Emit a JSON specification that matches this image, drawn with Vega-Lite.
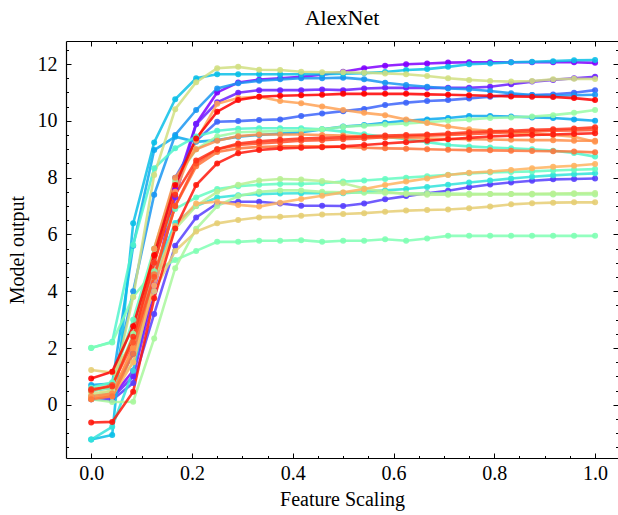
{
"$schema": "https://vega.github.io/schema/vega-lite/v6.json",
"width": 552, "height": 417,
"autosize": {"type": "none"},
"padding": {"left": 66, "top": 41, "right": 0, "bottom": 57},
"background": "white",
"title": {"text": "AlexNet", "font": "Liberation Serif", "fontSize": 22, "fontWeight": "normal", "color": "#000", "offset": 11},
"config": {
  "view": {"stroke": null},
  "axis": {"labelFont": "Liberation Serif", "titleFont": "Liberation Serif", "labelFontSize": 20, "titleFontSize": 20, "titleFontWeight": "normal", "labelColor": "#000", "titleColor": "#000", "tickColor": "#000", "grid": false, "domain": false, "domainColor": "#000", "domainWidth": 1.2, "tickWidth": 1}
},
"data": {"values": [
{"s":"a","x":0,"y":0.25},{"s":"a","x":0.0417,"y":0.3},{"s":"a","x":0.0833,"y":1.2},{"s":"a","x":0.125,"y":4.2},{"s":"a","x":0.1667,"y":7.6},{"s":"a","x":0.2083,"y":9.9},{"s":"a","x":0.25,"y":11.0},{"s":"a","x":0.2917,"y":11.35},{"s":"a","x":0.3333,"y":11.45},{"s":"a","x":0.375,"y":11.5},{"s":"a","x":0.4167,"y":11.55},{"s":"a","x":0.4583,"y":11.62},{"s":"a","x":0.5,"y":11.73},{"s":"a","x":0.5417,"y":11.85},{"s":"a","x":0.5833,"y":11.94},{"s":"a","x":0.625,"y":11.99},{"s":"a","x":0.6667,"y":12.02},{"s":"a","x":0.7083,"y":12.05},{"s":"a","x":0.75,"y":12.06},{"s":"a","x":0.7917,"y":12.06},{"s":"a","x":0.8333,"y":12.06},{"s":"a","x":0.875,"y":12.06},{"s":"a","x":0.9167,"y":12.06},{"s":"a","x":0.9583,"y":12.06},{"s":"a","x":1,"y":12.04},
{"s":"b","x":0,"y":0.2},{"s":"b","x":0.0417,"y":0.25},{"s":"b","x":0.0833,"y":1.0},{"s":"b","x":0.125,"y":4.0},{"s":"b","x":0.1667,"y":7.3},{"s":"b","x":0.2083,"y":9.88},{"s":"b","x":0.25,"y":10.65},{"s":"b","x":0.2917,"y":10.99},{"s":"b","x":0.3333,"y":11.08},{"s":"b","x":0.375,"y":11.08},{"s":"b","x":0.4167,"y":11.08},{"s":"b","x":0.4583,"y":11.1},{"s":"b","x":0.5,"y":11.08},{"s":"b","x":0.5417,"y":11.14},{"s":"b","x":0.5833,"y":11.16},{"s":"b","x":0.625,"y":11.16},{"s":"b","x":0.6667,"y":11.16},{"s":"b","x":0.7083,"y":11.16},{"s":"b","x":0.75,"y":11.16},{"s":"b","x":0.7917,"y":11.2},{"s":"b","x":0.8333,"y":11.29},{"s":"b","x":0.875,"y":11.38},{"s":"b","x":0.9167,"y":11.44},{"s":"b","x":0.9583,"y":11.5},{"s":"b","x":1,"y":11.55},
{"s":"c","x":0,"y":0.2},{"s":"c","x":0.0417,"y":0.17},{"s":"c","x":0.0833,"y":0.77},{"s":"c","x":0.125,"y":3.2},{"s":"c","x":0.1667,"y":5.6},{"s":"c","x":0.2083,"y":6.6},{"s":"c","x":0.25,"y":7.09},{"s":"c","x":0.2917,"y":7.15},{"s":"c","x":0.3333,"y":7.15},{"s":"c","x":0.375,"y":7.09},{"s":"c","x":0.4167,"y":7.01},{"s":"c","x":0.4583,"y":7.01},{"s":"c","x":0.5,"y":7.0},{"s":"c","x":0.5417,"y":7.09},{"s":"c","x":0.5833,"y":7.24},{"s":"c","x":0.625,"y":7.35},{"s":"c","x":0.6667,"y":7.45},{"s":"c","x":0.7083,"y":7.54},{"s":"c","x":0.75,"y":7.66},{"s":"c","x":0.7917,"y":7.76},{"s":"c","x":0.8333,"y":7.83},{"s":"c","x":0.875,"y":7.89},{"s":"c","x":0.9167,"y":7.94},{"s":"c","x":0.9583,"y":7.95},{"s":"c","x":1,"y":7.97},
{"s":"d","x":0,"y":0.3},{"s":"d","x":0.0417,"y":0.4},{"s":"d","x":0.0833,"y":1.8},{"s":"d","x":0.125,"y":5.0},{"s":"d","x":0.1667,"y":8.0},{"s":"d","x":0.2083,"y":9.3},{"s":"d","x":0.25,"y":9.97},{"s":"d","x":0.2917,"y":9.99},{"s":"d","x":0.3333,"y":10.03},{"s":"d","x":0.375,"y":10.05},{"s":"d","x":0.4167,"y":10.17},{"s":"d","x":0.4583,"y":10.26},{"s":"d","x":0.5,"y":10.34},{"s":"d","x":0.5417,"y":10.42},{"s":"d","x":0.5833,"y":10.56},{"s":"d","x":0.625,"y":10.64},{"s":"d","x":0.6667,"y":10.7},{"s":"d","x":0.7083,"y":10.73},{"s":"d","x":0.75,"y":10.79},{"s":"d","x":0.7917,"y":10.85},{"s":"d","x":0.8333,"y":10.91},{"s":"d","x":0.875,"y":10.91},{"s":"d","x":0.9167,"y":10.93},{"s":"d","x":0.9583,"y":10.99},{"s":"d","x":1,"y":11.08},
{"s":"e","x":0,"y":0.5},{"s":"e","x":0.0417,"y":0.6},{"s":"e","x":0.0833,"y":4.0},{"s":"e","x":0.125,"y":7.4},{"s":"e","x":0.1667,"y":9.5},{"s":"e","x":0.2083,"y":10.38},{"s":"e","x":0.25,"y":11.14},{"s":"e","x":0.2917,"y":11.32},{"s":"e","x":0.3333,"y":11.41},{"s":"e","x":0.375,"y":11.46},{"s":"e","x":0.4167,"y":11.5},{"s":"e","x":0.4583,"y":11.5},{"s":"e","x":0.5,"y":11.52},{"s":"e","x":0.5417,"y":11.46},{"s":"e","x":0.5833,"y":11.34},{"s":"e","x":0.625,"y":11.26},{"s":"e","x":0.6667,"y":11.2},{"s":"e","x":0.7083,"y":11.14},{"s":"e","x":0.75,"y":11.11},{"s":"e","x":0.7917,"y":11.05},{"s":"e","x":0.8333,"y":10.97},{"s":"e","x":0.875,"y":10.91},{"s":"e","x":0.9167,"y":10.88},{"s":"e","x":0.9583,"y":10.9},{"s":"e","x":1,"y":10.92},
{"s":"f","x":0,"y":0.7},{"s":"f","x":0.0417,"y":0.75},{"s":"f","x":0.0833,"y":5.6},{"s":"f","x":0.125,"y":8.97},{"s":"f","x":0.1667,"y":9.44},{"s":"f","x":0.2083,"y":9.26},{"s":"f","x":0.25,"y":9.32},{"s":"f","x":0.2917,"y":9.44},{"s":"f","x":0.3333,"y":9.5},{"s":"f","x":0.375,"y":9.55},{"s":"f","x":0.4167,"y":9.6},{"s":"f","x":0.4583,"y":9.7},{"s":"f","x":0.5,"y":9.8},{"s":"f","x":0.5417,"y":9.85},{"s":"f","x":0.5833,"y":9.93},{"s":"f","x":0.625,"y":10.0},{"s":"f","x":0.6667,"y":10.05},{"s":"f","x":0.7083,"y":10.1},{"s":"f","x":0.75,"y":10.17},{"s":"f","x":0.7917,"y":10.17},{"s":"f","x":0.8333,"y":10.15},{"s":"f","x":0.875,"y":10.12},{"s":"f","x":0.9167,"y":10.1},{"s":"f","x":0.9583,"y":10.05},{"s":"f","x":1,"y":10.0},
{"s":"g","x":0,"y":-1.22},{"s":"g","x":0.0417,"y":-1.06},{"s":"g","x":0.0833,"y":6.39},{"s":"g","x":0.125,"y":9.24},{"s":"g","x":0.1667,"y":10.76},{"s":"g","x":0.2083,"y":11.5},{"s":"g","x":0.25,"y":11.64},{"s":"g","x":0.2917,"y":11.64},{"s":"g","x":0.3333,"y":11.64},{"s":"g","x":0.375,"y":11.64},{"s":"g","x":0.4167,"y":11.64},{"s":"g","x":0.4583,"y":11.64},{"s":"g","x":0.5,"y":11.66},{"s":"g","x":0.5417,"y":11.68},{"s":"g","x":0.5833,"y":11.72},{"s":"g","x":0.625,"y":11.79},{"s":"g","x":0.6667,"y":11.82},{"s":"g","x":0.7083,"y":11.9},{"s":"g","x":0.75,"y":11.99},{"s":"g","x":0.7917,"y":12.02},{"s":"g","x":0.8333,"y":12.06},{"s":"g","x":0.875,"y":12.08},{"s":"g","x":0.9167,"y":12.1},{"s":"g","x":0.9583,"y":12.13},{"s":"g","x":1,"y":12.14},
{"s":"h","x":0,"y":-1.22},{"s":"h","x":0.0417,"y":-0.77},{"s":"h","x":0.0833,"y":1.2},{"s":"h","x":0.125,"y":4.6},{"s":"h","x":0.1667,"y":6.4},{"s":"h","x":0.2083,"y":7.0},{"s":"h","x":0.25,"y":7.3},{"s":"h","x":0.2917,"y":7.38},{"s":"h","x":0.3333,"y":7.42},{"s":"h","x":0.375,"y":7.44},{"s":"h","x":0.4167,"y":7.45},{"s":"h","x":0.4583,"y":7.45},{"s":"h","x":0.5,"y":7.45},{"s":"h","x":0.5417,"y":7.5},{"s":"h","x":0.5833,"y":7.55},{"s":"h","x":0.625,"y":7.6},{"s":"h","x":0.6667,"y":7.67},{"s":"h","x":0.7083,"y":7.75},{"s":"h","x":0.75,"y":7.83},{"s":"h","x":0.7917,"y":7.9},{"s":"h","x":0.8333,"y":7.97},{"s":"h","x":0.875,"y":8.03},{"s":"h","x":0.9167,"y":8.08},{"s":"h","x":0.9583,"y":8.12},{"s":"h","x":1,"y":8.15},
{"s":"i","x":0,"y":2.0},{"s":"i","x":0.0417,"y":2.22},{"s":"i","x":0.0833,"y":5.63},{"s":"i","x":0.125,"y":8.33},{"s":"i","x":0.1667,"y":9.03},{"s":"i","x":0.2083,"y":9.45},{"s":"i","x":0.25,"y":9.65},{"s":"i","x":0.2917,"y":9.72},{"s":"i","x":0.3333,"y":9.74},{"s":"i","x":0.375,"y":9.74},{"s":"i","x":0.4167,"y":9.74},{"s":"i","x":0.4583,"y":9.7},{"s":"i","x":0.5,"y":9.62},{"s":"i","x":0.5417,"y":9.53},{"s":"i","x":0.5833,"y":9.44},{"s":"i","x":0.625,"y":9.35},{"s":"i","x":0.6667,"y":9.25},{"s":"i","x":0.7083,"y":9.15},{"s":"i","x":0.75,"y":9.1},{"s":"i","x":0.7917,"y":9.06},{"s":"i","x":0.8333,"y":9.03},{"s":"i","x":0.875,"y":9.0},{"s":"i","x":0.9167,"y":8.95},{"s":"i","x":0.9583,"y":8.87},{"s":"i","x":1,"y":8.74},
{"s":"j","x":0,"y":0.6},{"s":"j","x":0.0417,"y":0.8},{"s":"j","x":0.0833,"y":3.0},{"s":"j","x":0.125,"y":5.5},{"s":"j","x":0.1667,"y":6.9},{"s":"j","x":0.2083,"y":7.3},{"s":"j","x":0.25,"y":7.6},{"s":"j","x":0.2917,"y":7.7},{"s":"j","x":0.3333,"y":7.75},{"s":"j","x":0.375,"y":7.78},{"s":"j","x":0.4167,"y":7.78},{"s":"j","x":0.4583,"y":7.8},{"s":"j","x":0.5,"y":7.86},{"s":"j","x":0.5417,"y":7.9},{"s":"j","x":0.5833,"y":7.95},{"s":"j","x":0.625,"y":8.0},{"s":"j","x":0.6667,"y":8.05},{"s":"j","x":0.7083,"y":8.1},{"s":"j","x":0.75,"y":8.15},{"s":"j","x":0.7917,"y":8.18},{"s":"j","x":0.8333,"y":8.2},{"s":"j","x":0.875,"y":8.22},{"s":"j","x":0.9167,"y":8.25},{"s":"j","x":0.9583,"y":8.28},{"s":"j","x":1,"y":8.3},
{"s":"k","x":0,"y":2.01},{"s":"k","x":0.0417,"y":2.2},{"s":"k","x":0.0833,"y":3.81},{"s":"k","x":0.125,"y":4.7},{"s":"k","x":0.1667,"y":5.1},{"s":"k","x":0.2083,"y":5.42},{"s":"k","x":0.25,"y":5.74},{"s":"k","x":0.2917,"y":5.74},{"s":"k","x":0.3333,"y":5.78},{"s":"k","x":0.375,"y":5.78},{"s":"k","x":0.4167,"y":5.8},{"s":"k","x":0.4583,"y":5.74},{"s":"k","x":0.5,"y":5.78},{"s":"k","x":0.5417,"y":5.78},{"s":"k","x":0.5833,"y":5.83},{"s":"k","x":0.625,"y":5.78},{"s":"k","x":0.6667,"y":5.86},{"s":"k","x":0.7083,"y":5.95},{"s":"k","x":0.75,"y":5.95},{"s":"k","x":0.7917,"y":5.95},{"s":"k","x":0.8333,"y":5.95},{"s":"k","x":0.875,"y":5.95},{"s":"k","x":0.9167,"y":5.95},{"s":"k","x":0.9583,"y":5.95},{"s":"k","x":1,"y":5.95},
{"s":"l","x":0,"y":0.5},{"s":"l","x":0.0417,"y":0.6},{"s":"l","x":0.0833,"y":2.5},{"s":"l","x":0.125,"y":5.5},{"s":"l","x":0.1667,"y":7.9},{"s":"l","x":0.2083,"y":9.0},{"s":"l","x":0.25,"y":9.45},{"s":"l","x":0.2917,"y":9.6},{"s":"l","x":0.3333,"y":9.62},{"s":"l","x":0.375,"y":9.64},{"s":"l","x":0.4167,"y":9.66},{"s":"l","x":0.4583,"y":9.7},{"s":"l","x":0.5,"y":9.79},{"s":"l","x":0.5417,"y":9.83},{"s":"l","x":0.5833,"y":9.87},{"s":"l","x":0.625,"y":9.91},{"s":"l","x":0.6667,"y":9.95},{"s":"l","x":0.7083,"y":10.0},{"s":"l","x":0.75,"y":10.05},{"s":"l","x":0.7917,"y":10.1},{"s":"l","x":0.8333,"y":10.12},{"s":"l","x":0.875,"y":10.15},{"s":"l","x":0.9167,"y":10.2},{"s":"l","x":0.9583,"y":10.28},{"s":"l","x":1,"y":10.38},
{"s":"m","x":0,"y":0.2},{"s":"m","x":0.0417,"y":0.1},{"s":"m","x":0.0833,"y":0.11},{"s":"m","x":0.125,"y":2.34},{"s":"m","x":0.1667,"y":4.81},{"s":"m","x":0.2083,"y":6.2},{"s":"m","x":0.25,"y":7.0},{"s":"m","x":0.2917,"y":7.35},{"s":"m","x":0.3333,"y":7.5},{"s":"m","x":0.375,"y":7.55},{"s":"m","x":0.4167,"y":7.55},{"s":"m","x":0.4583,"y":7.5},{"s":"m","x":0.5,"y":7.48},{"s":"m","x":0.5417,"y":7.47},{"s":"m","x":0.5833,"y":7.46},{"s":"m","x":0.625,"y":7.45},{"s":"m","x":0.6667,"y":7.45},{"s":"m","x":0.7083,"y":7.44},{"s":"m","x":0.75,"y":7.43},{"s":"m","x":0.7917,"y":7.42},{"s":"m","x":0.8333,"y":7.42},{"s":"m","x":0.875,"y":7.41},{"s":"m","x":0.9167,"y":7.41},{"s":"m","x":0.9583,"y":7.42},{"s":"m","x":1,"y":7.41},
{"s":"n","x":0,"y":0.3},{"s":"n","x":0.0417,"y":0.5},{"s":"n","x":0.0833,"y":1.5},{"s":"n","x":0.125,"y":4.5},{"s":"n","x":0.1667,"y":6.2},{"s":"n","x":0.2083,"y":7.0},{"s":"n","x":0.25,"y":7.5},{"s":"n","x":0.2917,"y":7.75},{"s":"n","x":0.3333,"y":7.9},{"s":"n","x":0.375,"y":7.95},{"s":"n","x":0.4167,"y":7.93},{"s":"n","x":0.4583,"y":7.88},{"s":"n","x":0.5,"y":7.8},{"s":"n","x":0.5417,"y":7.62},{"s":"n","x":0.5833,"y":7.5},{"s":"n","x":0.625,"y":7.42},{"s":"n","x":0.6667,"y":7.4},{"s":"n","x":0.7083,"y":7.4},{"s":"n","x":0.75,"y":7.4},{"s":"n","x":0.7917,"y":7.42},{"s":"n","x":0.8333,"y":7.42},{"s":"n","x":0.875,"y":7.43},{"s":"n","x":0.9167,"y":7.44},{"s":"n","x":0.9583,"y":7.45},{"s":"n","x":1,"y":7.46},
{"s":"o","x":0,"y":0.4},{"s":"o","x":0.0417,"y":0.5},{"s":"o","x":0.0833,"y":3.8},{"s":"o","x":0.125,"y":8.09},{"s":"o","x":0.1667,"y":10.41},{"s":"o","x":0.2083,"y":11.36},{"s":"o","x":0.25,"y":11.85},{"s":"o","x":0.2917,"y":11.9},{"s":"o","x":0.3333,"y":11.8},{"s":"o","x":0.375,"y":11.79},{"s":"o","x":0.4167,"y":11.73},{"s":"o","x":0.4583,"y":11.71},{"s":"o","x":0.5,"y":11.71},{"s":"o","x":0.5417,"y":11.69},{"s":"o","x":0.5833,"y":11.67},{"s":"o","x":0.625,"y":11.64},{"s":"o","x":0.6667,"y":11.58},{"s":"o","x":0.7083,"y":11.5},{"s":"o","x":0.75,"y":11.44},{"s":"o","x":0.7917,"y":11.4},{"s":"o","x":0.8333,"y":11.38},{"s":"o","x":0.875,"y":11.4},{"s":"o","x":0.9167,"y":11.46},{"s":"o","x":0.9583,"y":11.48},{"s":"o","x":1,"y":11.47},
{"s":"p","x":0,"y":1.23},{"s":"p","x":0.0417,"y":1.14},{"s":"p","x":0.0833,"y":2.2},{"s":"p","x":0.125,"y":4.0},{"s":"p","x":0.1667,"y":5.42},{"s":"p","x":0.2083,"y":6.1},{"s":"p","x":0.25,"y":6.39},{"s":"p","x":0.2917,"y":6.51},{"s":"p","x":0.3333,"y":6.6},{"s":"p","x":0.375,"y":6.62},{"s":"p","x":0.4167,"y":6.66},{"s":"p","x":0.4583,"y":6.7},{"s":"p","x":0.5,"y":6.72},{"s":"p","x":0.5417,"y":6.75},{"s":"p","x":0.5833,"y":6.8},{"s":"p","x":0.625,"y":6.84},{"s":"p","x":0.6667,"y":6.86},{"s":"p","x":0.7083,"y":6.88},{"s":"p","x":0.75,"y":6.92},{"s":"p","x":0.7917,"y":6.98},{"s":"p","x":0.8333,"y":7.06},{"s":"p","x":0.875,"y":7.1},{"s":"p","x":0.9167,"y":7.12},{"s":"p","x":0.9583,"y":7.13},{"s":"p","x":1,"y":7.13},
{"s":"q","x":0,"y":0.25},{"s":"q","x":0.0417,"y":0.3},{"s":"q","x":0.0833,"y":1.5},{"s":"q","x":0.125,"y":4.2},{"s":"q","x":0.1667,"y":6.3},{"s":"q","x":0.2083,"y":7.09},{"s":"q","x":0.25,"y":7.15},{"s":"q","x":0.2917,"y":7.04},{"s":"q","x":0.3333,"y":6.98},{"s":"q","x":0.375,"y":7.12},{"s":"q","x":0.4167,"y":7.25},{"s":"q","x":0.4583,"y":7.36},{"s":"q","x":0.5,"y":7.48},{"s":"q","x":0.5417,"y":7.6},{"s":"q","x":0.5833,"y":7.74},{"s":"q","x":0.625,"y":7.86},{"s":"q","x":0.6667,"y":7.97},{"s":"q","x":0.7083,"y":8.09},{"s":"q","x":0.75,"y":8.17},{"s":"q","x":0.7917,"y":8.21},{"s":"q","x":0.8333,"y":8.27},{"s":"q","x":0.875,"y":8.33},{"s":"q","x":0.9167,"y":8.38},{"s":"q","x":0.9583,"y":8.42},{"s":"q","x":1,"y":8.48},
{"s":"r","x":0,"y":0.2},{"s":"r","x":0.0417,"y":0.4},{"s":"r","x":0.0833,"y":2.0},{"s":"r","x":0.125,"y":5.0},{"s":"r","x":0.1667,"y":7.5},{"s":"r","x":0.2083,"y":9.3},{"s":"r","x":0.25,"y":10.6},{"s":"r","x":0.2917,"y":10.8},{"s":"r","x":0.3333,"y":10.85},{"s":"r","x":0.375,"y":10.7},{"s":"r","x":0.4167,"y":10.62},{"s":"r","x":0.4583,"y":10.5},{"s":"r","x":0.5,"y":10.38},{"s":"r","x":0.5417,"y":10.28},{"s":"r","x":0.5833,"y":10.2},{"s":"r","x":0.625,"y":10.05},{"s":"r","x":0.6667,"y":9.92},{"s":"r","x":0.7083,"y":9.8},{"s":"r","x":0.75,"y":9.7},{"s":"r","x":0.7917,"y":9.65},{"s":"r","x":0.8333,"y":9.58},{"s":"r","x":0.875,"y":9.55},{"s":"r","x":0.9167,"y":9.5},{"s":"r","x":0.9583,"y":9.44},{"s":"r","x":1,"y":9.26},
{"s":"s","x":0,"y":0.3},{"s":"s","x":0.0417,"y":0.4},{"s":"s","x":0.0833,"y":2.0},{"s":"s","x":0.125,"y":5.5},{"s":"s","x":0.1667,"y":8.0},{"s":"s","x":0.2083,"y":9.0},{"s":"s","x":0.25,"y":9.3},{"s":"s","x":0.2917,"y":9.46},{"s":"s","x":0.3333,"y":9.52},{"s":"s","x":0.375,"y":9.52},{"s":"s","x":0.4167,"y":9.52},{"s":"s","x":0.4583,"y":9.5},{"s":"s","x":0.5,"y":9.48},{"s":"s","x":0.5417,"y":9.45},{"s":"s","x":0.5833,"y":9.42},{"s":"s","x":0.625,"y":9.4},{"s":"s","x":0.6667,"y":9.38},{"s":"s","x":0.7083,"y":9.36},{"s":"s","x":0.75,"y":9.35},{"s":"s","x":0.7917,"y":9.34},{"s":"s","x":0.8333,"y":9.33},{"s":"s","x":0.875,"y":9.32},{"s":"s","x":0.9167,"y":9.32},{"s":"s","x":0.9583,"y":9.3},{"s":"s","x":1,"y":9.3},
{"s":"t","x":0,"y":0.2},{"s":"t","x":0.0417,"y":0.3},{"s":"t","x":0.0833,"y":1.8},{"s":"t","x":0.125,"y":4.6},{"s":"t","x":0.1667,"y":7.0},{"s":"t","x":0.2083,"y":8.4},{"s":"t","x":0.25,"y":8.9},{"s":"t","x":0.2917,"y":9.03},{"s":"t","x":0.3333,"y":9.08},{"s":"t","x":0.375,"y":9.1},{"s":"t","x":0.4167,"y":9.1},{"s":"t","x":0.4583,"y":9.1},{"s":"t","x":0.5,"y":9.08},{"s":"t","x":0.5417,"y":9.05},{"s":"t","x":0.5833,"y":9.03},{"s":"t","x":0.625,"y":9.02},{"s":"t","x":0.6667,"y":9.0},{"s":"t","x":0.7083,"y":8.98},{"s":"t","x":0.75,"y":8.97},{"s":"t","x":0.7917,"y":8.96},{"s":"t","x":0.8333,"y":8.95},{"s":"t","x":0.875,"y":8.94},{"s":"t","x":0.9167,"y":8.93},{"s":"t","x":0.9583,"y":8.92},{"s":"t","x":1,"y":8.89},
{"s":"u","x":0,"y":0.5},{"s":"u","x":0.0417,"y":0.7},{"s":"u","x":0.0833,"y":2.2},{"s":"u","x":0.125,"y":4.5},{"s":"u","x":0.1667,"y":7.0},{"s":"u","x":0.2083,"y":8.5},{"s":"u","x":0.25,"y":9.0},{"s":"u","x":0.2917,"y":9.15},{"s":"u","x":0.3333,"y":9.2},{"s":"u","x":0.375,"y":9.25},{"s":"u","x":0.4167,"y":9.3},{"s":"u","x":0.4583,"y":9.32},{"s":"u","x":0.5,"y":9.35},{"s":"u","x":0.5417,"y":9.38},{"s":"u","x":0.5833,"y":9.42},{"s":"u","x":0.625,"y":9.45},{"s":"u","x":0.6667,"y":9.48},{"s":"u","x":0.7083,"y":9.5},{"s":"u","x":0.75,"y":9.53},{"s":"u","x":0.7917,"y":9.56},{"s":"u","x":0.8333,"y":9.6},{"s":"u","x":0.875,"y":9.62},{"s":"u","x":0.9167,"y":9.65},{"s":"u","x":0.9583,"y":9.66},{"s":"u","x":1,"y":9.68},
{"s":"v","x":0,"y":0.55},{"s":"v","x":0.0417,"y":0.65},{"s":"v","x":0.0833,"y":2.4},{"s":"v","x":0.125,"y":5.0},{"s":"v","x":0.1667,"y":7.4},{"s":"v","x":0.2083,"y":8.6},{"s":"v","x":0.25,"y":9.0},{"s":"v","x":0.2917,"y":9.2},{"s":"v","x":0.3333,"y":9.28},{"s":"v","x":0.375,"y":9.33},{"s":"v","x":0.4167,"y":9.38},{"s":"v","x":0.4583,"y":9.4},{"s":"v","x":0.5,"y":9.42},{"s":"v","x":0.5417,"y":9.45},{"s":"v","x":0.5833,"y":9.48},{"s":"v","x":0.625,"y":9.5},{"s":"v","x":0.6667,"y":9.52},{"s":"v","x":0.7083,"y":9.55},{"s":"v","x":0.75,"y":9.6},{"s":"v","x":0.7917,"y":9.63},{"s":"v","x":0.8333,"y":9.65},{"s":"v","x":0.875,"y":9.68},{"s":"v","x":0.9167,"y":9.7},{"s":"v","x":0.9583,"y":9.73},{"s":"v","x":1,"y":9.77},
{"s":"w","x":0,"y":-0.62},{"s":"w","x":0.0417,"y":-0.6},{"s":"w","x":0.0833,"y":0.46},{"s":"w","x":0.125,"y":3.75},{"s":"w","x":0.1667,"y":6.21},{"s":"w","x":0.2083,"y":7.74},{"s":"w","x":0.25,"y":8.5},{"s":"w","x":0.2917,"y":8.86},{"s":"w","x":0.3333,"y":8.97},{"s":"w","x":0.375,"y":9.03},{"s":"w","x":0.4167,"y":9.05},{"s":"w","x":0.4583,"y":9.07},{"s":"w","x":0.5,"y":9.1},{"s":"w","x":0.5417,"y":9.15},{"s":"w","x":0.5833,"y":9.2},{"s":"w","x":0.625,"y":9.25},{"s":"w","x":0.6667,"y":9.3},{"s":"w","x":0.7083,"y":9.35},{"s":"w","x":0.75,"y":9.4},{"s":"w","x":0.7917,"y":9.45},{"s":"w","x":0.8333,"y":9.48},{"s":"w","x":0.875,"y":9.5},{"s":"w","x":0.9167,"y":9.52},{"s":"w","x":0.9583,"y":9.54},{"s":"w","x":1,"y":9.56},
{"s":"x","x":0,"y":0.93},{"s":"x","x":0.0417,"y":1.17},{"s":"x","x":0.0833,"y":2.77},{"s":"x","x":0.125,"y":5.27},{"s":"x","x":0.1667,"y":7.74},{"s":"x","x":0.2083,"y":9.38},{"s":"x","x":0.25,"y":10.32},{"s":"x","x":0.2917,"y":10.73},{"s":"x","x":0.3333,"y":10.85},{"s":"x","x":0.375,"y":10.88},{"s":"x","x":0.4167,"y":10.9},{"s":"x","x":0.4583,"y":10.92},{"s":"x","x":0.5,"y":10.95},{"s":"x","x":0.5417,"y":10.95},{"s":"x","x":0.5833,"y":10.95},{"s":"x","x":0.625,"y":10.95},{"s":"x","x":0.6667,"y":10.93},{"s":"x","x":0.7083,"y":10.92},{"s":"x","x":0.75,"y":10.9},{"s":"x","x":0.7917,"y":10.88},{"s":"x","x":0.8333,"y":10.86},{"s":"x","x":0.875,"y":10.85},{"s":"x","x":0.9167,"y":10.84},{"s":"x","x":0.9583,"y":10.8},{"s":"x","x":1,"y":10.73}
]},
"layer": [
  {
    "mark": {"type": "line", "strokeWidth": 2.6, "opacity": 0.85},
    "encoding": {
      "x": {"field": "x", "type": "quantitative", "scale": {"domain": [-0.05, 1.0455], "nice": false, "zero": false},
            "axis": {"orient": "bottom", "domain": true, "values": [0, 0.2, 0.4, 0.6, 0.8, 1], "format": ".1f", "tickSize": -5, "labelPadding": 10, "title": "Feature Scaling", "titlePadding": 6}},
      "y": {"field": "y", "type": "quantitative", "scale": {"domain": [-1.87, 12.81], "nice": false, "zero": false},
            "axis": {"orient": "left", "domain": true, "values": [0, 2, 4, 6, 8, 10, 12], "format": "d", "tickSize": -5, "labelPadding": 14, "title": "Model output", "titlePadding": 10}},
      "color": {"field": "s", "type": "nominal", "legend": null,
        "scale": {"domain": ["a","b","c","d","e","f","g","h","i","j","k","l","m","n","o","p","q","r","s","t","u","v","w","x"],
                  "range": ["#8000ff","#6b20fe","#573ffd","#3d65fa","#1a96f2","#0aa9ef","#0abfe8","#33e3da","#52f5cc","#66fcc2","#80ffb4","#99fca6","#a8f79c","#b8f093","#d1df82","#e6ce74","#ffb462","#ffa256","#ff8f4b","#ff743b","#ff4f28","#ff3018","#ff180c","#ff0000"]}}
    }
  },
  {
    "mark": {"type": "point", "filled": true, "size": 36, "opacity": 0.9},
    "encoding": {
      "x": {"field": "x", "type": "quantitative", "scale": {"domain": [-0.05, 1.0455], "nice": false, "zero": false},
            "axis": {"orient": "bottom", "values": [0.05,0.1,0.15,0.25,0.3,0.35,0.45,0.5,0.55,0.65,0.7,0.75,0.85,0.9,0.95], "tickSize": -2.5, "labels": false, "title": null}},
      "y": {"field": "y", "type": "quantitative", "scale": {"domain": [-1.87, 12.81], "nice": false, "zero": false},
            "axis": {"orient": "left", "values": [-1.5,-1,-0.5,0.5,1,1.5,2.5,3,3.5,4.5,5,5.5,6.5,7,7.5,8.5,9,9.5,10.5,11,11.5,12.5], "tickSize": -2.5, "labels": false, "title": null}},
      "color": {"field": "s", "type": "nominal", "legend": null}
    }
  },
  {
    "mark": {"type": "point", "opacity": 0},
    "encoding": {
      "x": {"field": "x", "type": "quantitative", "scale": {"domain": [-0.05, 1.0455], "nice": false, "zero": false},
            "axis": {"orient": "top", "domain": true, "values": [0, 0.2, 0.4, 0.6, 0.8, 1], "tickSize": -5, "labels": false, "title": null}},
      "y": {"field": "y", "type": "quantitative", "scale": {"domain": [-1.87, 12.81], "nice": false, "zero": false},
            "axis": {"orient": "right", "values": [0, 2, 4, 6, 8, 10, 12], "tickSize": -5, "labels": false, "title": null}}
    }
  },
  {
    "mark": {"type": "point", "opacity": 0},
    "encoding": {
      "x": {"field": "x", "type": "quantitative", "scale": {"domain": [-0.05, 1.0455], "nice": false, "zero": false},
            "axis": {"orient": "top", "values": [0.05,0.1,0.15,0.25,0.3,0.35,0.45,0.5,0.55,0.65,0.7,0.75,0.85,0.9,0.95], "tickSize": -2.5, "labels": false, "title": null}},
      "y": {"field": "y", "type": "quantitative", "scale": {"domain": [-1.87, 12.81], "nice": false, "zero": false},
            "axis": {"orient": "right", "values": [-1.5,-1,-0.5,0.5,1,1.5,2.5,3,3.5,4.5,5,5.5,6.5,7,7.5,8.5,9,9.5,10.5,11,11.5,12.5], "tickSize": -2.5, "labels": false, "title": null}}
    }
  }
],
"resolve": {"axis": {"x": "independent", "y": "independent"}}
}
